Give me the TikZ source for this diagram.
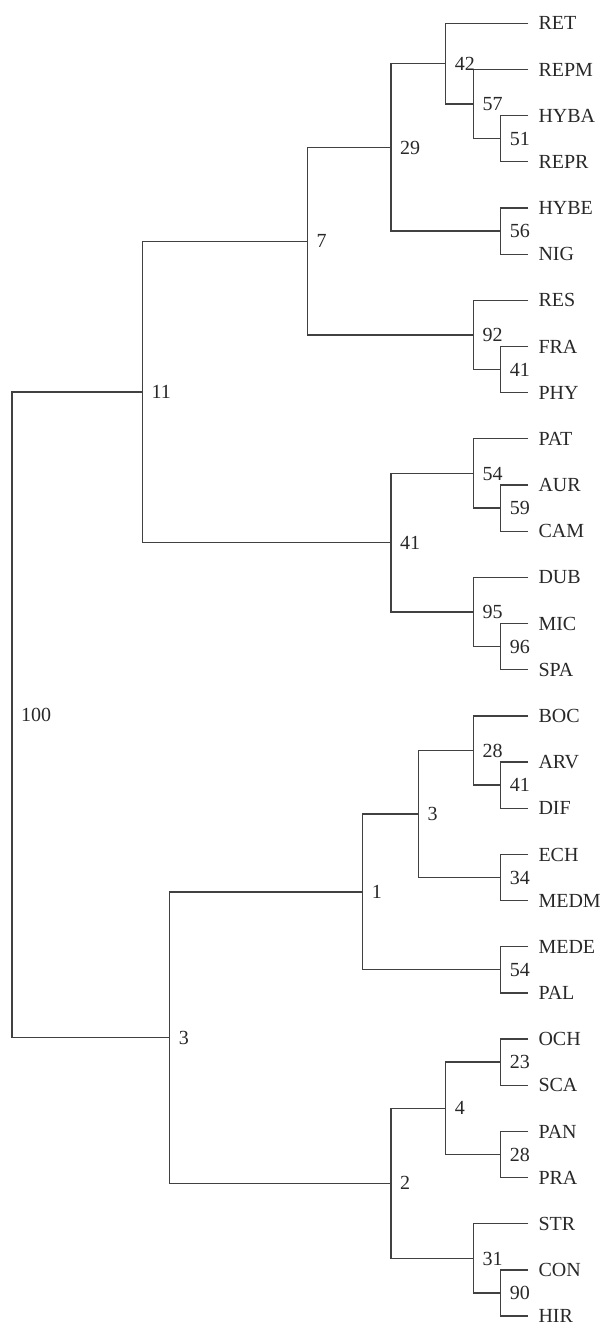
\documentclass[tikz,border=0pt]{standalone}
\usepackage{fontspec}
\setmainfont{Liberation Serif}
\usetikzlibrary{calc}
\definecolor{linec}{RGB}{65,65,65}
\definecolor{textc}{RGB}{40,40,40}
\tikzset{
  branch/.style={draw=linec, line width=1.3pt},
  leaflbl/.style={anchor=west, inner sep=0pt, xshift=10pt, text height=13.3pt, text depth=0pt, text=textc, font=\fontsize{20}{24}\selectfont},
  supp/.style={anchor=west, inner sep=0pt, xshift=9pt, text height=13.3pt, text depth=0pt, text=textc, font=\fontsize{20}{24}\selectfont}
}
\newcommand\leaf[2]{% name, y
  \coordinate (#1) at (528.3,#2);
  \node[leaflbl] (t#1) at (#1) {#1};
}
\newcommand\joinnode[5]{% name, x, child1, child2, label
  \path let \p1=(#3), \p2=(#4) in coordinate (#1) at (#2pt, {0.5*(\y1+\y2)});
  \draw[branch] (#3) -| (#1) |- (#4);
  \ifx\relax#5\relax\else\node[supp] (l#1) at (#1) {#5};\fi
}
\begin{document}
\begin{tikzpicture}[x=1pt,y=-1pt]
\useasboundingbox (0,0) rectangle (607,1326);
\leaf{RET}{23.3}
\leaf{REPM}{69.5}
\leaf{HYBA}{115.6}
\leaf{REPR}{161.8}
\leaf{HYBE}{208.0}
\leaf{NIG}{254.2}
\leaf{RES}{300.3}
\leaf{FRA}{346.5}
\leaf{PHY}{392.7}
\leaf{PAT}{438.8}
\leaf{AUR}{485.0}
\leaf{CAM}{531.2}
\leaf{DUB}{577.3}
\leaf{MIC}{623.5}
\leaf{SPA}{669.7}
\leaf{BOC}{715.9}
\leaf{ARV}{762.0}
\leaf{DIF}{808.2}
\leaf{ECH}{854.4}
\leaf{MEDM}{900.5}
\leaf{MEDE}{946.7}
\leaf{PAL}{992.9}
\leaf{OCH}{1039.0}
\leaf{SCA}{1085.2}
\leaf{PAN}{1131.4}
\leaf{PRA}{1177.6}
\leaf{STR}{1223.7}
\leaf{CON}{1269.9}
\leaf{HIR}{1316.1}
% upper clade
\joinnode{nA}{500.7}{HYBA}{REPR}{51}
\joinnode{nB}{473.3}{REPM}{nA}{57}
\joinnode{nC}{445.7}{RET}{nB}{42}
\joinnode{nD}{500.7}{HYBE}{NIG}{56}
\joinnode{nE}{391}{nC}{nD}{29}
\joinnode{nF}{500.7}{FRA}{PHY}{41}
\joinnode{nG}{473.3}{RES}{nF}{92}
\joinnode{nH}{307.3}{nE}{nG}{7}
\joinnode{nI}{500.7}{AUR}{CAM}{59}
\joinnode{nJ}{473.3}{PAT}{nI}{54}
\joinnode{nK}{500.7}{MIC}{SPA}{96}
\joinnode{nL}{473.3}{DUB}{nK}{95}
\joinnode{nM}{391}{nJ}{nL}{41}
\joinnode{nN}{142.3}{nH}{nM}{11}
% lower clade
\joinnode{nO}{500.7}{ARV}{DIF}{41}
\joinnode{nP}{473.3}{BOC}{nO}{28}
\joinnode{nQ}{500.7}{ECH}{MEDM}{34}
\joinnode{nR}{418.3}{nP}{nQ}{3}
\joinnode{nS}{500.7}{MEDE}{PAL}{54}
\joinnode{nT}{362.7}{nR}{nS}{1}
\joinnode{nU}{500.7}{OCH}{SCA}{23}
\joinnode{nV}{500.7}{PAN}{PRA}{28}
\joinnode{nW}{445.7}{nU}{nV}{4}
\joinnode{nX}{500.7}{CON}{HIR}{90}
\joinnode{nY}{473.3}{STR}{nX}{31}
\joinnode{nZ}{391}{nW}{nY}{2}
\joinnode{nAA}{169.7}{nT}{nZ}{3}
\joinnode{nRoot}{12}{nN}{nAA}{100}
\end{tikzpicture}
\end{document}
